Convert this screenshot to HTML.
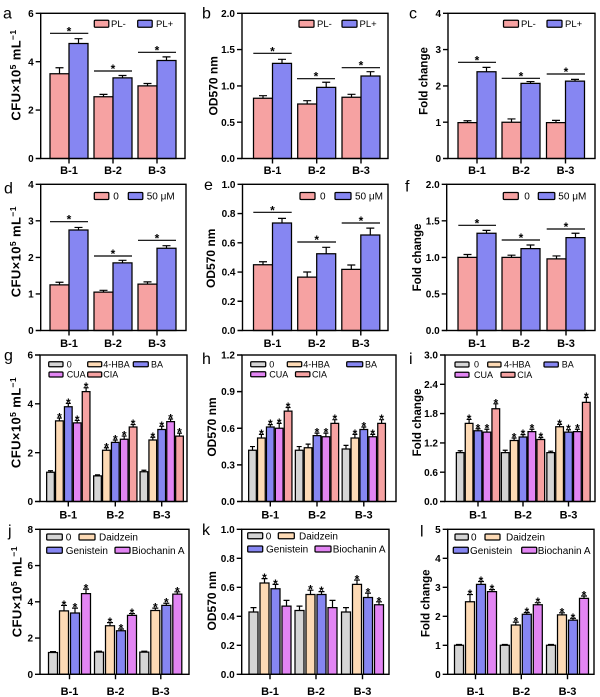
<!DOCTYPE html>
<html><head><meta charset="utf-8"><style>
html,body{margin:0;padding:0;background:#fff}
svg{display:block;font-family:"Liberation Sans",Arial,sans-serif}
.ax{fill:none;stroke:#000;stroke-width:1.4}
.sg{fill:none;stroke:#000;stroke-width:1.2}
.b rect,.lb{stroke:#000;stroke-width:1.25}
.b rect,.b path{vector-effect:non-scaling-stroke}
.b path{fill:none;stroke:#000;stroke-width:1.2}
.b text,.st{font-size:12px;font-weight:bold;text-anchor:middle}
.tl{font-size:10px;font-weight:bold;text-anchor:end}
.xl{font-size:11px;font-weight:bold;text-anchor:middle}
.yc{font-size:13px;font-weight:bold;text-anchor:middle;letter-spacing:0.4px}
.yo{font-size:12px;font-weight:bold;text-anchor:middle}
.yf{font-size:11.5px;font-weight:bold;text-anchor:middle}
.pl{font-size:16px}
.l1{font-size:9.5px}.l2{font-size:10px}.l3{font-size:9px}.l4{font-size:10px}
.P{fill:#F6A2A2}.B{fill:#8686F2}.G{fill:#D5D5D5}.Y{fill:#FDDAB5}.V{fill:#E285F3}
</style></head><body>
<svg width="600" height="697" viewBox="0 0 600 697">
<!-- panel letters -->
<text class="pl" x="3" y="18.3">a</text>
<text class="pl" x="202" y="18.3">b</text>
<text class="pl" x="409" y="18.3">c</text>
<text class="pl" x="4" y="193.5">d</text>
<text class="pl" x="204" y="190">e</text>
<text class="pl" x="405" y="191.5">f</text>
<text class="pl" x="4" y="360.6">g</text>
<text class="pl" x="202" y="364">h</text>
<text class="pl" x="409" y="364">i</text>
<text class="pl" x="8" y="536">j</text>
<text class="pl" x="202" y="535">k</text>
<text class="pl" x="420" y="536.5">l</text>

<!-- Y titles -->
<text class="yc" transform="translate(20.7,75) rotate(-90)">CFU×10<tspan font-size="8.5" dy="-4.5">5</tspan><tspan dy="4.5"> mL</tspan><tspan font-size="8.5" dy="-4.5">−1</tspan></text>
<text class="yc" transform="translate(20.7,251.7) rotate(-90)">CFU×10<tspan font-size="8.5" dy="-4.5">5</tspan><tspan dy="4.5"> mL</tspan><tspan font-size="8.5" dy="-4.5">−1</tspan></text>
<text class="yc" transform="translate(20.7,422.5) rotate(-90)">CFU×10<tspan font-size="8.5" dy="-4.5">5</tspan><tspan dy="4.5"> mL</tspan><tspan font-size="8.5" dy="-4.5">−1</tspan></text>
<text class="yc" transform="translate(21.5,591.7) rotate(-90)">CFU×10<tspan font-size="8.5" dy="-4.5">5</tspan><tspan dy="4.5"> mL</tspan><tspan font-size="8.5" dy="-4.5">−1</tspan></text>
<text class="yo" transform="translate(217.3,85.8) rotate(-90)">OD570 nm</text>
<text class="yo" transform="translate(215,258.3) rotate(-90)">OD570 nm</text>
<text class="yo" transform="translate(216,427) rotate(-90)">OD570 nm</text>
<text class="yo" transform="translate(216,600.8) rotate(-90)">OD570 nm</text>
<text class="yf" transform="translate(427.7,81) rotate(-90)">Fold change</text>
<text class="yf" transform="translate(421,257.5) rotate(-90)">Fold change</text>
<text class="yf" transform="translate(421,422.5) rotate(-90)">Fold change</text>
<text class="yf" transform="translate(429.5,603.3) rotate(-90)">Fold change</text>

<!-- ===== Panel a ===== -->
<g class="b" transform="translate(0,158.5) scale(1,-24.2)">
<rect class="P" x="50" width="19" height="3.5"/><rect class="B" x="69" width="19" height="4.75"/>
<rect class="P" x="94" width="19" height="2.55"/><rect class="B" x="113" width="19" height="3.33"/>
<rect class="P" x="138" width="19" height="3"/><rect class="B" x="157" width="19" height="4.05"/>
<path d="M59.5 3.5V3.75m-4 0h8M78.5 4.75V4.95m-4 0h8M103.5 2.55V2.65m-4 0h8M122.5 3.33V3.43m-4 0h8M147.5 3V3.1m-4 0h8M166.5 4.05V4.2m-4 0h8"/>
</g>
<rect class="ax" x="40.7" y="13.3" width="144.3" height="145.2"/>
<path class="ax" d="M35.7 158.5H40.7M35.7 110.1H40.7M35.7 61.7H40.7M35.7 13.3H40.7M69 158.5v5M113 158.5v5M157 158.5v5"/>
<text class="tl" x="33.7" y="162.1">0</text><text class="tl" x="33.7" y="113.7">2</text><text class="tl" x="33.7" y="65.3">4</text><text class="tl" x="33.7" y="16.9">6</text>
<path class="sg" d="M50 33.3H88.3M94 71H132M138 52.3H176"/>
<text class="st" x="69" y="35.3">*</text><text class="st" x="113" y="73">*</text><text class="st" x="157" y="54.3">*</text>
<rect class="lb P" x="94.3" y="20.3" width="14.5" height="7" rx="1"/><text class="l1" x="111" y="27.2">PL-</text>
<rect class="lb B" x="137.7" y="20.3" width="14.5" height="7" rx="1"/><text class="l1" x="156" y="27.2">PL+</text>

<!-- ===== Panel b ===== -->
<g class="b" transform="translate(0,158.5) scale(1,-72.6)">
<rect class="P" x="253.5" width="19" height=".83"/><rect class="B" x="272.5" width="19" height="1.31"/>
<rect class="P" x="297.7" width="19" height=".75"/><rect class="B" x="316.7" width="19" height=".98"/>
<rect class="P" x="342" width="19" height=".843"/><rect class="B" x="361" width="19" height="1.136"/>
<path d="M263 .83V.865m-4 0h8M282 1.31V1.366m-4 0h8M307.2 .75V.796m-4 0h8M326.2 .98V1.05m-4 0h8M351.5 .843V.884m-4 0h8M370.5 1.136V1.196m-4 0h8"/>
</g>
<rect class="ax" x="242" y="13.3" width="146" height="145.2"/>
<path class="ax" d="M237 158.5H242M237 122.2H242M237 85.9H242M237 49.6H242M237 13.3H242M272.5 158.5v5M316.7 158.5v5M361 158.5v5"/>
<text class="tl" x="235" y="162.1">0.0</text><text class="tl" x="235" y="125.8">0.5</text><text class="tl" x="235" y="89.5">1.0</text><text class="tl" x="235" y="53.2">1.5</text><text class="tl" x="235" y="16.9">2.0</text>
<path class="sg" d="M253.3 53.3H291.7M297 78.7H335M341.7 67.7H380"/>
<text class="st" x="272.5" y="55.3">*</text><text class="st" x="316" y="80.7">*</text><text class="st" x="361" y="69.7">*</text>
<rect class="lb P" x="299" y="20.3" width="15" height="7" rx="1"/><text class="l1" x="317" y="27.2">PL-</text>
<rect class="lb B" x="342" y="20.3" width="15" height="7" rx="1"/><text class="l1" x="359.5" y="27.2">PL+</text>

<!-- ===== Panel c ===== -->
<g class="b" transform="translate(0,158.5) scale(1,-36.3)">
<rect class="P" x="458" width="19" height=".99"/><rect class="B" x="477" width="19" height="2.39"/>
<rect class="P" x="502" width="19" height="1"/><rect class="B" x="521" width="19" height="2.07"/>
<rect class="P" x="546.5" width="19" height=".99"/><rect class="B" x="565.5" width="19" height="2.13"/>
<path d="M467.5 .99V1.04m-4 0h8M486.5 2.39V2.51m-4 0h8M511.5 1V1.09m-4 0h8M530.5 2.07V2.12m-4 0h8M556 .99V1.05m-4 0h8M575 2.13V2.18m-4 0h8"/>
</g>
<rect class="ax" x="448" y="13.3" width="147" height="145.2"/>
<path class="ax" d="M443 158.5H448M443 122.2H448M443 85.9H448M443 49.6H448M443 13.3H448M477 158.5v5M521 158.5v5M565.5 158.5v5"/>
<text class="tl" x="441" y="162.1">0</text><text class="tl" x="441" y="125.8">1</text><text class="tl" x="441" y="89.5">2</text><text class="tl" x="441" y="53.2">3</text><text class="tl" x="441" y="16.9">4</text>
<path class="sg" d="M458 62.3H496M501.7 78.3H540M546.7 74H585"/>
<text class="st" x="477" y="64.3">*</text><text class="st" x="521" y="80.3">*</text><text class="st" x="566" y="76">*</text>
<rect class="lb P" x="503.5" y="20.3" width="15" height="7" rx="1"/><text class="l1" x="521" y="27.2">PL-</text>
<rect class="lb B" x="547" y="20.3" width="15" height="7" rx="1"/><text class="l1" x="565" y="27.2">PL+</text>

<!-- row1 x labels -->
<text class="xl" x="69" y="174">B-1</text><text class="xl" x="113" y="174">B-2</text><text class="xl" x="157" y="174">B-3</text>
<text class="xl" x="272.5" y="174">B-1</text><text class="xl" x="316.7" y="174">B-2</text><text class="xl" x="361" y="174">B-3</text>
<text class="xl" x="477" y="174">B-1</text><text class="xl" x="521" y="174">B-2</text><text class="xl" x="565.5" y="174">B-3</text>

<!-- ===== Panel d ===== -->
<g class="b" transform="translate(0,330.5) scale(1,-36.55)">
<rect class="P" x="50" width="19" height="1.25"/><rect class="B" x="69" width="19" height="2.75"/>
<rect class="P" x="94" width="19" height="1.05"/><rect class="B" x="113" width="19" height="1.85"/>
<rect class="P" x="138" width="19" height="1.27"/><rect class="B" x="157" width="19" height="2.25"/>
<path d="M59.5 1.25V1.32m-4 0h8M78.5 2.75V2.82m-4 0h8M103.5 1.05V1.1m-4 0h8M122.5 1.85V1.92m-4 0h8M147.5 1.27V1.33m-4 0h8M166.5 2.25V2.32m-4 0h8"/>
</g>
<rect class="ax" x="40.7" y="184.3" width="145.3" height="146.2"/>
<path class="ax" d="M35.7 330.5H40.7M35.7 293.95H40.7M35.7 257.4H40.7M35.7 220.85H40.7M35.7 184.3H40.7M69 330.5v5M113 330.5v5M157 330.5v5"/>
<text class="tl" x="33.7" y="334.1">0</text><text class="tl" x="33.7" y="297.55">1</text><text class="tl" x="33.7" y="261">2</text><text class="tl" x="33.7" y="224.45">3</text><text class="tl" x="33.7" y="187.9">4</text>
<path class="sg" d="M50 221.7H88M94 256H132M138 240.3H176"/>
<text class="st" x="69" y="223.7">*</text><text class="st" x="113" y="258">*</text><text class="st" x="157" y="242.3">*</text>
<rect class="lb P" x="94.3" y="192.5" width="14.5" height="7" rx="1"/><text class="l2" x="113.3" y="199.5">0</text>
<rect class="lb B" x="128.3" y="192.5" width="14.5" height="7" rx="1"/><text class="l2" x="146.7" y="199.5">50 μM</text>

<!-- ===== Panel e ===== -->
<g class="b" transform="translate(0,330.5) scale(1,-146.2)">
<rect class="P" x="253.5" width="19" height=".45"/><rect class="B" x="272.5" width="19" height=".735"/>
<rect class="P" x="297.7" width="19" height=".365"/><rect class="B" x="316.7" width="19" height=".525"/>
<rect class="P" x="341.8" width="19" height=".418"/><rect class="B" x="360.8" width="19" height=".653"/>
<path d="M263 .45V.47m-4 0h8M282 .735V.767m-4 0h8M307.2 .365V.4m-4 0h8M326.2 .525V.569m-4 0h8M351.3 .418V.448m-4 0h8M370.3 .653V.7m-4 0h8"/>
</g>
<rect class="ax" x="242.5" y="184.3" width="145.5" height="146.2"/>
<path class="ax" d="M237.5 330.5H242.5M237.5 301.26H242.5M237.5 272.02H242.5M237.5 242.78H242.5M237.5 213.54H242.5M237.5 184.3H242.5M272.5 330.5v5M316.7 330.5v5M360.8 330.5v5"/>
<text class="tl" x="235.5" y="334.1">0.0</text><text class="tl" x="235.5" y="304.86">0.2</text><text class="tl" x="235.5" y="275.62">0.4</text><text class="tl" x="235.5" y="246.38">0.6</text><text class="tl" x="235.5" y="217.14">0.8</text><text class="tl" x="235.5" y="187.9">1.0</text>
<path class="sg" d="M253.3 212.3H291.7M297.3 242H336M341.7 223H380"/>
<text class="st" x="272.5" y="214.3">*</text><text class="st" x="316.7" y="244">*</text><text class="st" x="361" y="225">*</text>
<rect class="lb P" x="300" y="192.5" width="15" height="7" rx="1"/><text class="l2" x="320" y="199.5">0</text>
<rect class="lb B" x="335" y="192.5" width="16" height="7" rx="1"/><text class="l2" x="355" y="199.5">50 μM</text>

<!-- ===== Panel f ===== -->
<g class="b" transform="translate(0,330.5) scale(1,-73.1)">
<rect class="P" x="458" width="19" height="1"/><rect class="B" x="477" width="19" height="1.33"/>
<rect class="P" x="502" width="19" height="1"/><rect class="B" x="521" width="19" height="1.12"/>
<rect class="P" x="547" width="19" height=".98"/><rect class="B" x="566" width="19" height="1.27"/>
<path d="M467.5 1V1.04m-4 0h8M486.5 1.33V1.37m-4 0h8M511.5 1V1.03m-4 0h8M530.5 1.12V1.17m-4 0h8M556.5 .98V1.02m-4 0h8M575.5 1.27V1.33m-4 0h8"/>
</g>
<rect class="ax" x="446.7" y="184.3" width="148.3" height="146.2"/>
<path class="ax" d="M441.7 330.5H446.7M441.7 293.95H446.7M441.7 257.4H446.7M441.7 220.85H446.7M441.7 184.3H446.7M477 330.5v5M521 330.5v5M566 330.5v5"/>
<text class="tl" x="439.7" y="334.1">0.0</text><text class="tl" x="439.7" y="297.55">0.5</text><text class="tl" x="439.7" y="261">1.0</text><text class="tl" x="439.7" y="224.45">1.5</text><text class="tl" x="439.7" y="187.9">2.0</text>
<path class="sg" d="M458.3 225.3H496M501.7 240H540M546.7 229H585"/>
<text class="st" x="477" y="227.3">*</text><text class="st" x="521" y="242">*</text><text class="st" x="566" y="231">*</text>
<rect class="lb P" x="503.3" y="192.5" width="15" height="7" rx="1"/><text class="l2" x="524.3" y="199.5">0</text>
<rect class="lb B" x="538.3" y="192.5" width="16.5" height="7" rx="1"/><text class="l2" x="558.3" y="199.5">50 μM</text>

<!-- row2 x labels -->
<text class="xl" x="69" y="347">B-1</text><text class="xl" x="113" y="347">B-2</text><text class="xl" x="157" y="347">B-3</text>
<text class="xl" x="272.5" y="347">B-1</text><text class="xl" x="316.7" y="347">B-2</text><text class="xl" x="360.8" y="347">B-3</text>
<text class="xl" x="477" y="347">B-1</text><text class="xl" x="521" y="347">B-2</text><text class="xl" x="566" y="347">B-3</text>

<!-- ===== Panel g ===== -->
<g class="b" transform="translate(0,501.5) scale(1,-24.4167)">
<rect class="G" x="46.65" width="7.7" height="1.2"/><rect class="Y" x="55.55" width="7.7" height="3.3"/><rect class="B" x="64.45" width="7.7" height="3.88"/><rect class="V" x="73.35" width="7.7" height="3.22"/><rect class="P" x="82.25" width="7.7" height="4.5"/>
<rect class="G" x="93.65" width="7.7" height="1.05"/><rect class="Y" x="102.55" width="7.7" height="2.1"/><rect class="B" x="111.45" width="7.7" height="2.42"/><rect class="V" x="120.35" width="7.7" height="2.55"/><rect class="P" x="129.25" width="7.7" height="3.05"/>
<rect class="G" x="140.05" width="7.7" height="1.22"/><rect class="Y" x="148.95" width="7.7" height="2.52"/><rect class="B" x="157.85" width="7.7" height="2.95"/><rect class="V" x="166.75" width="7.7" height="3.27"/><rect class="P" x="175.65" width="7.7" height="2.68"/>
<path d="M50.5 1.2V1.26m-2.5 0h5M59.4 3.3V3.42m-2.5 0h5M68.3 3.88V4.02m-2.5 0h5M77.2 3.22V3.32m-2.5 0h5M86.1 4.5V4.66m-2.5 0h5M97.5 1.05V1.09m-2.5 0h5M106.4 2.1V2.2m-2.5 0h5M115.3 2.42V2.52m-2.5 0h5M124.2 2.55V2.68m-2.5 0h5M133.1 3.05V3.15m-2.5 0h5M143.9 1.22V1.28m-2.5 0h5M152.8 2.52V2.63m-2.5 0h5M161.7 2.95V3.08m-2.5 0h5M170.6 3.27V3.38m-2.5 0h5M179.5 2.68V2.8m-2.5 0h5"/>
<text transform="translate(59.4,3.42) scale(1,-0.04096)" y="3.5">*</text><text transform="translate(68.3,4.02) scale(1,-0.04096)" y="3.5">*</text><text transform="translate(77.2,3.32) scale(1,-0.04096)" y="3.5">*</text><text transform="translate(86.1,4.66) scale(1,-0.04096)" y="3.5">*</text>
<text transform="translate(106.4,2.2) scale(1,-0.04096)" y="3.5">*</text><text transform="translate(115.3,2.52) scale(1,-0.04096)" y="3.5">*</text><text transform="translate(124.2,2.68) scale(1,-0.04096)" y="3.5">*</text><text transform="translate(133.1,3.15) scale(1,-0.04096)" y="3.5">*</text>
<text transform="translate(152.8,2.63) scale(1,-0.04096)" y="3.5">*</text><text transform="translate(161.7,3.08) scale(1,-0.04096)" y="3.5">*</text><text transform="translate(170.6,3.38) scale(1,-0.04096)" y="3.5">*</text><text transform="translate(179.5,2.8) scale(1,-0.04096)" y="3.5">*</text>
</g>
<rect class="ax" x="40" y="355" width="147" height="146.5"/>
<path class="ax" d="M35 501.5H40M35 452.67H40M35 403.83H40M35 355H40M68.3 501.5v5M115.3 501.5v5M161.7 501.5v5"/>
<text class="tl" x="33" y="505.1">0</text><text class="tl" x="33" y="456.27">2</text><text class="tl" x="33" y="407.43">4</text><text class="tl" x="33" y="358.6">6</text>
<rect class="lb G" x="48.7" y="361.7" width="14.3" height="5" rx="1"/><text class="l3" x="66.7" y="367.4">0</text>
<rect class="lb Y" x="87.7" y="361.7" width="14" height="5" rx="1"/><text class="l3" x="103.3" y="367.4">4-HBA</text>
<rect class="lb B" x="133.3" y="361.7" width="15" height="5" rx="1"/><text class="l3" x="151" y="367.4">BA</text>
<rect class="lb V" x="49" y="372" width="14" height="5" rx="1"/><text class="l3" x="66.7" y="377.7">CUA</text>
<rect class="lb P" x="87.7" y="372" width="14" height="5" rx="1"/><text class="l3" x="103.3" y="377.7">CIA</text>

<!-- ===== Panel h ===== -->
<g class="b" transform="translate(0,501.5) scale(1,-122.083)">
<rect class="G" x="248.65" width="7.7" height=".42"/><rect class="Y" x="257.55" width="7.7" height=".52"/><rect class="B" x="266.45" width="7.7" height=".61"/><rect class="V" x="275.35" width="7.7" height=".6"/><rect class="P" x="284.25" width="7.7" height=".74"/>
<rect class="G" x="295.35" width="7.7" height=".42"/><rect class="Y" x="304.25" width="7.7" height=".44"/><rect class="B" x="313.15" width="7.7" height=".54"/><rect class="V" x="322.05" width="7.7" height=".53"/><rect class="P" x="330.95" width="7.7" height=".64"/>
<rect class="G" x="342.15" width="7.7" height=".43"/><rect class="Y" x="351.05" width="7.7" height=".52"/><rect class="B" x="359.95" width="7.7" height=".59"/><rect class="V" x="368.85" width="7.7" height=".53"/><rect class="P" x="377.75" width="7.7" height=".64"/>
<path d="M252.5 .42V.45m-2.5 0h5M261.4 .52V.55m-2.5 0h5M270.3 .61V.63m-2.5 0h5M279.2 .6V.64m-2.5 0h5M288.1 .74V.77m-2.5 0h5M299.2 .42V.45m-2.5 0h5M308.1 .44V.47m-2.5 0h5M317 .54V.56m-2.5 0h5M325.9 .53V.56m-2.5 0h5M334.8 .64V.67m-2.5 0h5M346 .43V.46m-2.5 0h5M354.9 .52V.55m-2.5 0h5M363.8 .59V.61m-2.5 0h5M372.7 .53V.55m-2.5 0h5M381.6 .64V.67m-2.5 0h5"/>
<text transform="translate(261.4,.55) scale(1,-0.008191)" y="3.5">*</text><text transform="translate(270.3,.63) scale(1,-0.008191)" y="3.5">*</text><text transform="translate(279.2,.64) scale(1,-0.008191)" y="3.5">*</text><text transform="translate(288.1,.77) scale(1,-0.008191)" y="3.5">*</text>
<text transform="translate(317,.56) scale(1,-0.008191)" y="3.5">*</text><text transform="translate(325.9,.56) scale(1,-0.008191)" y="3.5">*</text><text transform="translate(334.8,.67) scale(1,-0.008191)" y="3.5">*</text>
<text transform="translate(354.9,.55) scale(1,-0.008191)" y="3.5">*</text><text transform="translate(363.8,.61) scale(1,-0.008191)" y="3.5">*</text><text transform="translate(372.7,.55) scale(1,-0.008191)" y="3.5">*</text><text transform="translate(381.6,.67) scale(1,-0.008191)" y="3.5">*</text>
</g>
<rect class="ax" x="242" y="355" width="154" height="146.5"/>
<path class="ax" d="M237 501.5H242M237 464.875H242M237 428.25H242M237 391.625H242M237 355H242M270.3 501.5v5M317 501.5v5M363.8 501.5v5"/>
<text class="tl" x="235" y="505.1">0.0</text><text class="tl" x="235" y="468.475">0.3</text><text class="tl" x="235" y="431.85">0.6</text><text class="tl" x="235" y="395.225">0.9</text><text class="tl" x="235" y="358.6">1.2</text>
<rect class="lb G" x="250.7" y="361.7" width="15" height="5" rx="1"/><text class="l3" x="269.3" y="367.4">0</text>
<rect class="lb Y" x="287.3" y="361.7" width="14.4" height="5" rx="1"/><text class="l3" x="303.3" y="367.4">4-HBA</text>
<rect class="lb B" x="346.7" y="361.7" width="16" height="5" rx="1"/><text class="l3" x="365" y="367.4">BA</text>
<rect class="lb V" x="250.7" y="371.7" width="15" height="5" rx="1"/><text class="l3" x="269.3" y="377.4">CUA</text>
<rect class="lb P" x="295.5" y="371.7" width="14.4" height="5" rx="1"/><text class="l3" x="312" y="377.4">CIA</text>

<!-- ===== Panel i ===== -->
<g class="b" transform="translate(0,501.5) scale(1,-48.833)">
<rect class="G" x="456.35" width="7.7" height="1"/><rect class="Y" x="465.25" width="7.7" height="1.6"/><rect class="B" x="474.15" width="7.7" height="1.45"/><rect class="V" x="483.05" width="7.7" height="1.42"/><rect class="P" x="491.95" width="7.7" height="1.9"/>
<rect class="G" x="501.35" width="7.7" height="1"/><rect class="Y" x="510.25" width="7.7" height="1.25"/><rect class="B" x="519.15" width="7.7" height="1.32"/><rect class="V" x="528.05" width="7.7" height="1.43"/><rect class="P" x="536.95" width="7.7" height="1.27"/>
<rect class="G" x="546.85" width="7.7" height="1"/><rect class="Y" x="555.75" width="7.7" height="1.53"/><rect class="B" x="564.65" width="7.7" height="1.42"/><rect class="V" x="573.55" width="7.7" height="1.43"/><rect class="P" x="582.45" width="7.7" height="2.03"/>
<path d="M460.2 1V1.04m-2.5 0h5M469.1 1.6V1.68m-2.5 0h5M478 1.45V1.49m-2.5 0h5M486.9 1.42V1.48m-2.5 0h5M495.8 1.9V2m-2.5 0h5M505.2 1V1.05m-2.5 0h5M514.1 1.25V1.3m-2.5 0h5M523 1.32V1.37m-2.5 0h5M531.9 1.43V1.48m-2.5 0h5M540.8 1.27V1.31m-2.5 0h5M550.7 1V1.03m-2.5 0h5M559.6 1.53V1.58m-2.5 0h5M568.5 1.42V1.47m-2.5 0h5M577.4 1.43V1.48m-2.5 0h5M586.3 2.03V2.13m-2.5 0h5"/>
<text transform="translate(469.1,1.68) scale(1,-0.020478)" y="3.5">*</text><text transform="translate(478,1.49) scale(1,-0.020478)" y="3.5">*</text><text transform="translate(486.9,1.48) scale(1,-0.020478)" y="3.5">*</text><text transform="translate(495.8,2) scale(1,-0.020478)" y="3.5">*</text>
<text transform="translate(514.1,1.3) scale(1,-0.020478)" y="3.5">*</text><text transform="translate(523,1.37) scale(1,-0.020478)" y="3.5">*</text><text transform="translate(531.9,1.48) scale(1,-0.020478)" y="3.5">*</text><text transform="translate(540.8,1.31) scale(1,-0.020478)" y="3.5">*</text>
<text transform="translate(559.6,1.58) scale(1,-0.020478)" y="3.5">*</text><text transform="translate(568.5,1.47) scale(1,-0.020478)" y="3.5">*</text><text transform="translate(577.4,1.48) scale(1,-0.020478)" y="3.5">*</text><text transform="translate(586.3,2.13) scale(1,-0.020478)" y="3.5">*</text>
</g>
<rect class="ax" x="445" y="355" width="150" height="146.5"/>
<path class="ax" d="M440 501.5H445M440 472.2H445M440 442.9H445M440 413.6H445M440 384.3H445M440 355H445M478 501.5v5M523 501.5v5M568.5 501.5v5"/>
<text class="tl" x="438" y="505.1">0.0</text><text class="tl" x="438" y="475.8">0.6</text><text class="tl" x="438" y="446.5">1.2</text><text class="tl" x="438" y="417.2">1.8</text><text class="tl" x="438" y="387.9">2.4</text><text class="tl" x="438" y="358.6">3.0</text>
<rect class="lb G" x="455" y="362" width="14" height="5" rx="1"/><text class="l3" x="474" y="367.7">0</text>
<rect class="lb Y" x="487.7" y="362" width="13.3" height="5" rx="1"/><text class="l3" x="504" y="367.7">4-HBA</text>
<rect class="lb B" x="544" y="362" width="14.3" height="5" rx="1"/><text class="l3" x="561.7" y="367.7">BA</text>
<rect class="lb V" x="455" y="372.3" width="14" height="5" rx="1"/><text class="l3" x="474" y="378">CUA</text>
<rect class="lb P" x="501" y="372.3" width="14" height="5" rx="1"/><text class="l3" x="517.3" y="378">CIA</text>

<!-- row3 x labels -->
<text class="xl" x="68.3" y="518.5">B-1</text><text class="xl" x="115.3" y="518.5">B-2</text><text class="xl" x="161.7" y="518.5">B-3</text>
<text class="xl" x="270.3" y="518.5">B-1</text><text class="xl" x="317" y="518.5">B-2</text><text class="xl" x="363.8" y="518.5">B-3</text>
<text class="xl" x="478" y="518.5">B-1</text><text class="xl" x="523" y="518.5">B-2</text><text class="xl" x="568.5" y="518.5">B-3</text>

<!-- ===== Panel j ===== -->
<g class="b" transform="translate(0,674.3) scale(1,-18.125)">
<rect class="G" x="48.5" width="9" height="1.2"/><rect class="Y" x="59.5" width="9" height="3.5"/><rect class="B" x="70.5" width="9" height="3.38"/><rect class="V" x="81.5" width="9" height="4.45"/>
<rect class="G" x="94.5" width="9" height="1.22"/><rect class="Y" x="105.5" width="9" height="2.68"/><rect class="B" x="116.5" width="9" height="2.4"/><rect class="V" x="127.5" width="9" height="3.25"/>
<rect class="G" x="139.8" width="9" height="1.22"/><rect class="Y" x="150.8" width="9" height="3.52"/><rect class="B" x="161.8" width="9" height="3.8"/><rect class="V" x="172.8" width="9" height="4.42"/>
<path d="M53 1.2V1.25m-3 0h6M64 3.5V3.8m-3 0h6M75 3.38V3.65m-3 0h6M86 4.45V4.7m-3 0h6M99 1.22V1.27m-3 0h6M110 2.68V2.85m-3 0h6M121 2.4V2.5m-3 0h6M132 3.25V3.35m-3 0h6M144.3 1.22V1.27m-3 0h6M155.3 3.52V3.65m-3 0h6M166.3 3.8V3.92m-3 0h6M177.3 4.42V4.55m-3 0h6"/>
<text transform="translate(64,3.8) scale(1,-0.055172)" y="3.5">*</text><text transform="translate(75,3.65) scale(1,-0.055172)" y="3.5">*</text><text transform="translate(86,4.7) scale(1,-0.055172)" y="3.5">*</text>
<text transform="translate(110,2.85) scale(1,-0.055172)" y="3.5">*</text><text transform="translate(121,2.5) scale(1,-0.055172)" y="3.5">*</text><text transform="translate(132,3.35) scale(1,-0.055172)" y="3.5">*</text>
<text transform="translate(155.3,3.65) scale(1,-0.055172)" y="3.5">*</text><text transform="translate(166.3,3.92) scale(1,-0.055172)" y="3.5">*</text><text transform="translate(177.3,4.55) scale(1,-0.055172)" y="3.5">*</text>
</g>
<rect class="ax" x="40" y="529.3" width="149" height="145"/>
<path class="ax" d="M35 674.3H40M35 638.05H40M35 601.8H40M35 565.55H40M35 529.3H40M69.5 674.3v5M115.5 674.3v5M160.8 674.3v5"/>
<text class="tl" x="33" y="677.9">0</text><text class="tl" x="33" y="641.65">2</text><text class="tl" x="33" y="605.4">4</text><text class="tl" x="33" y="569.15">6</text><text class="tl" x="33" y="532.9">8</text>
<rect class="lb G" x="46.7" y="534" width="15.6" height="6" rx="1"/><text class="l4" x="65.7" y="540.6">0</text>
<rect class="lb Y" x="79" y="534" width="16" height="6" rx="1"/><text class="l4" x="99" y="540.6">Daidzein</text>
<rect class="lb B" x="46.7" y="547.3" width="15.6" height="6" rx="1"/><text class="l4" x="65.7" y="553.9">Genistein</text>
<rect class="lb V" x="115" y="547.3" width="15" height="6" rx="1"/><text class="l4" x="131.7" y="553.9">Biochanin A</text>

<!-- ===== Panel k ===== -->
<g class="b" transform="translate(0,674.3) scale(1,-145)">
<rect class="G" x="249" width="9" height=".43"/><rect class="Y" x="260" width="9" height=".63"/><rect class="B" x="271" width="9" height=".59"/><rect class="V" x="282" width="9" height=".47"/>
<rect class="G" x="295" width="9" height=".44"/><rect class="Y" x="306" width="9" height=".55"/><rect class="B" x="317" width="9" height=".55"/><rect class="V" x="328" width="9" height=".46"/>
<rect class="G" x="341.5" width="9" height=".43"/><rect class="Y" x="352.5" width="9" height=".62"/><rect class="B" x="363.5" width="9" height=".53"/><rect class="V" x="374.5" width="9" height=".48"/>
<path d="M253.5 .43V.46m-3 0h6M264.5 .63V.66m-3 0h6M275.5 .59V.62m-3 0h6M286.5 .47V.51m-3 0h6M299.5 .44V.47m-3 0h6M310.5 .55V.58m-3 0h6M321.5 .55V.57m-3 0h6M332.5 .46V.51m-3 0h6M346 .43V.46m-3 0h6M357 .62V.65m-3 0h6M368 .53V.56m-3 0h6M379 .48V.5m-3 0h6"/>
<text transform="translate(264.5,.66) scale(1,-0.0068966)" y="3.5">*</text><text transform="translate(275.5,.62) scale(1,-0.0068966)" y="3.5">*</text>
<text transform="translate(310.5,.58) scale(1,-0.0068966)" y="3.5">*</text><text transform="translate(321.5,.57) scale(1,-0.0068966)" y="3.5">*</text>
<text transform="translate(357,.65) scale(1,-0.0068966)" y="3.5">*</text><text transform="translate(368,.56) scale(1,-0.0068966)" y="3.5">*</text><text transform="translate(379,.5) scale(1,-0.0068966)" y="3.5">*</text>
</g>
<rect class="ax" x="241.7" y="529.3" width="147.3" height="145"/>
<path class="ax" d="M236.7 674.3H241.7M236.7 645.3H241.7M236.7 616.3H241.7M236.7 587.3H241.7M236.7 558.3H241.7M236.7 529.3H241.7M270 674.3v5M316 674.3v5M362.5 674.3v5"/>
<text class="tl" x="234.7" y="677.9">0.0</text><text class="tl" x="234.7" y="648.9">0.2</text><text class="tl" x="234.7" y="619.9">0.4</text><text class="tl" x="234.7" y="590.9">0.6</text><text class="tl" x="234.7" y="561.9">0.8</text><text class="tl" x="234.7" y="532.9">1.0</text>
<rect class="lb G" x="247.7" y="532.7" width="15" height="6" rx="1"/><text class="l4" x="265.7" y="539.3">0</text>
<rect class="lb Y" x="278.3" y="532.7" width="16" height="6" rx="1"/><text class="l4" x="299" y="539.3">Daidzein</text>
<rect class="lb B" x="247.7" y="546" width="15" height="6" rx="1"/><text class="l4" x="266" y="552.6">Genistein</text>
<rect class="lb V" x="315" y="546" width="16" height="6" rx="1"/><text class="l4" x="332.7" y="552.6">Biochanin A</text>

<!-- ===== Panel l ===== -->
<g class="b" transform="translate(0,674.3) scale(1,-29)">
<rect class="G" x="454.5" width="9" height="1"/><rect class="Y" x="465.5" width="9" height="2.5"/><rect class="B" x="476.5" width="9" height="3.1"/><rect class="V" x="487.5" width="9" height="2.85"/>
<rect class="G" x="500.3" width="9" height="1"/><rect class="Y" x="511.3" width="9" height="1.7"/><rect class="B" x="522.3" width="9" height="2.07"/><rect class="V" x="533.3" width="9" height="2.4"/>
<rect class="G" x="546.5" width="9" height="1"/><rect class="Y" x="557.5" width="9" height="2.05"/><rect class="B" x="568.5" width="9" height="1.87"/><rect class="V" x="579.5" width="9" height="2.62"/>
<path d="M459 1V1.03m-3 0h6M470 2.5V2.75m-3 0h6M481 3.1V3.2m-3 0h6M492 2.85V2.92m-3 0h6M504.8 1V1.03m-3 0h6M515.8 1.7V1.8m-3 0h6M526.8 2.07V2.13m-3 0h6M537.8 2.4V2.47m-3 0h6M551 1V1.03m-3 0h6M562 2.05V2.12m-3 0h6M573 1.87V1.93m-3 0h6M584 2.62V2.7m-3 0h6"/>
<text transform="translate(470,2.75) scale(1,-0.034483)" y="3.5">*</text><text transform="translate(481,3.2) scale(1,-0.034483)" y="3.5">*</text><text transform="translate(492,2.92) scale(1,-0.034483)" y="3.5">*</text>
<text transform="translate(515.8,1.8) scale(1,-0.034483)" y="3.5">*</text><text transform="translate(526.8,2.13) scale(1,-0.034483)" y="3.5">*</text><text transform="translate(537.8,2.47) scale(1,-0.034483)" y="3.5">*</text>
<text transform="translate(562,2.12) scale(1,-0.034483)" y="3.5">*</text><text transform="translate(573,1.93) scale(1,-0.034483)" y="3.5">*</text><text transform="translate(584,2.7) scale(1,-0.034483)" y="3.5">*</text>
</g>
<rect class="ax" x="447.7" y="529.3" width="146.3" height="145"/>
<path class="ax" d="M442.7 674.3H447.7M442.7 645.3H447.7M442.7 616.3H447.7M442.7 587.3H447.7M442.7 558.3H447.7M442.7 529.3H447.7M475.5 674.3v5M521.3 674.3v5M567.5 674.3v5"/>
<text class="tl" x="440.7" y="677.9">0</text><text class="tl" x="440.7" y="648.9">1</text><text class="tl" x="440.7" y="619.9">2</text><text class="tl" x="440.7" y="590.9">3</text><text class="tl" x="440.7" y="561.9">4</text><text class="tl" x="440.7" y="532.9">5</text>
<rect class="lb G" x="455" y="534" width="13.3" height="6" rx="1"/><text class="l4" x="471" y="540.6">0</text>
<rect class="lb Y" x="485" y="534" width="15" height="6" rx="1"/><text class="l4" x="506" y="540.6">Daidzein</text>
<rect class="lb B" x="453.3" y="547.3" width="15" height="6" rx="1"/><text class="l4" x="470" y="553.9">Genistein</text>
<rect class="lb V" x="521.7" y="547.3" width="15" height="6" rx="1"/><text class="l4" x="537.7" y="553.9">Biochanin A</text>

<!-- row4 x labels -->
<text class="xl" x="69.5" y="695">B-1</text><text class="xl" x="115.5" y="695">B-2</text><text class="xl" x="160.8" y="695">B-3</text>
<text class="xl" x="270" y="695">B-1</text><text class="xl" x="316" y="695">B-2</text><text class="xl" x="362.5" y="695">B-3</text>
<text class="xl" x="475.5" y="695">B-1</text><text class="xl" x="521.3" y="695">B-2</text><text class="xl" x="567.5" y="695">B-3</text>
</svg>
</body></html>
